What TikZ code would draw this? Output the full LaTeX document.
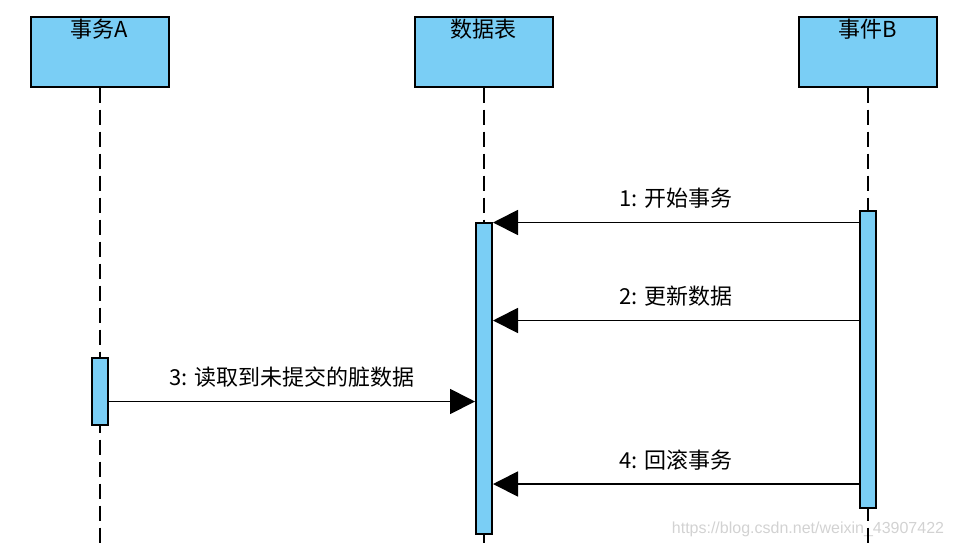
\documentclass[tikz,border=0pt]{standalone}
\usepackage{fontspec}
\setmainfont{Noto Sans CJK SC}
\newfontfamily\wmfont{Liberation Sans}
\usetikzlibrary{arrows.meta,calc}
\definecolor{actblue}{RGB}{122,206,245}
\tikzset{
  headbox/.style={draw, fill=actblue, line width=1pt, minimum width=69pt, minimum height=35pt, inner sep=0pt},
  headtext/.style={font=\fontsize{11}{13}\selectfont, anchor=center, yshift=-7pt},
  actbox/.style={draw, fill=actblue, line width=1pt, minimum width=8pt, inner sep=0pt},
  lifeline/.style={line width=1pt, dash pattern=on 7.5pt off 3.5pt},
  msg/.style={line width=0.9pt, -{Triangle[length=12.5pt,width=12.5pt]}},
  msgtext/.style={font=\fontsize{11}{13}\selectfont, yshift=12pt}
}
\begin{document}
\begin{tikzpicture}[x=0.5pt, y=-0.5pt]
        \useasboundingbox (0,0) rectangle (954,548);
        \node[text=gray!35, font=\wmfont\fontsize{8}{10}\selectfont] (wm) at (808,529) {https://blog.csdn.net/weixin\_43907422};
        % participants
        \node[headbox, label={[headtext]north:事务A}] (txA) at (99.5,51.5) {};
        \node[headbox, label={[headtext]north:数据表}] (tbl) at (483.5,51.5) {};
        \node[headbox, label={[headtext]north:事件B}] (txB) at (867.5,51.5) {};
        \coordinate (bottom) at (0,548);
        \draw[lifeline] (txA.south) -- (txA.south |- bottom);
        \draw[lifeline] (tbl.south) -- (tbl.south |- bottom);
        \draw[lifeline] (txB.south) -- (txB.south |- bottom);
        % activations
        \node[actbox, minimum height=33.5pt] (actA) at (100,391.5) {};
        \node[actbox, minimum height=155.5pt] (actT) at (484,378) {};
        \node[actbox, minimum height=148.5pt] (actB) at (868,359) {};
        % messages
        \coordinate (m1) at (0,222.5);
        \coordinate (m2) at (0,320.5);
        \coordinate (m3) at (0,401.5);
        \coordinate (m4) at (0,484);
        \draw[msg] (actB.west |- m1) -- (actT.east |- m1) node[midway, msgtext] (l1) {1: 开始事务};
        \draw[msg] (actB.west |- m2) -- (actT.east |- m2) node[midway, msgtext] (l2) {2: 更新数据};
        \draw[msg] (actA.east |- m3) -- (actT.west |- m3) node[midway, msgtext] (l3) {3: 读取到未提交的脏数据};
        \draw[msg] (actB.west |- m4) -- (actT.east |- m4) node[midway, msgtext] (l4) {4: 回滚事务};
\end{tikzpicture}
\end{document}
